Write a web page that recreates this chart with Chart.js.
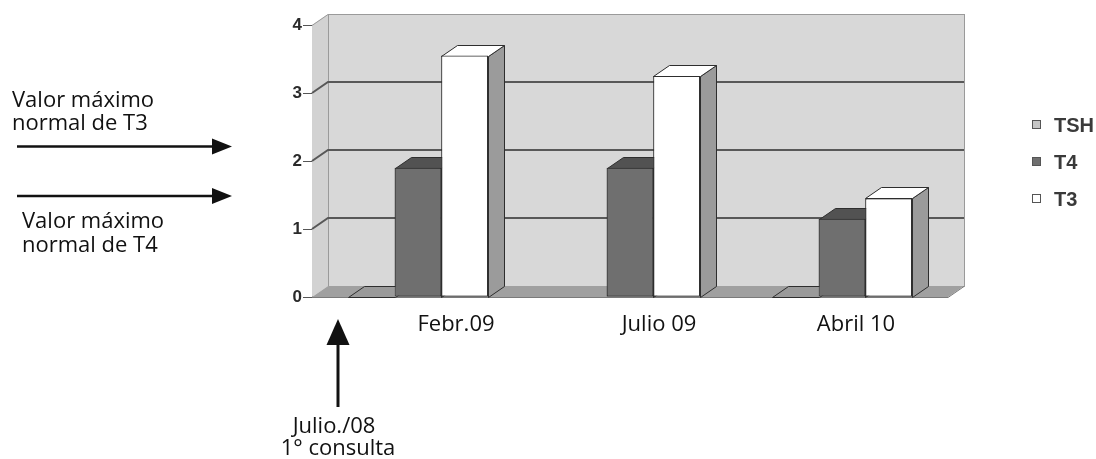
<!DOCTYPE html>
<html>
<head>
<meta charset="utf-8">
<script src="https://cdn.jsdelivr.net/npm/chart.js@4.4.1/dist/chart.umd.min.js"></script>
<style>
  html, body { margin: 0; padding: 0; background: #ffffff; }
  #wrap { width: 1096px; height: 459px; position: relative; }
</style>
</head>
<body>
<div id="wrap"><canvas id="c" width="1096" height="459"></canvas></div>
<script>
// Hormone levels per consultation
const categories = ['Febr.09', 'Julio 09', 'Abril 10'];
const seriesNames = ['TSH', 'T4', 'T3'];
const tshValues = [0, null, 0];
const t4Values = [1.9, 1.9, 1.15];
const t3Values = [3.55, 3.25, 1.45];
const yTickValues = [0, 1, 2, 3, 4];

// Look of the pseudo-3D columns
const DEPTH = { x: 16, y: -11 };
const faceStyles = [
  { front: '#a9a9a9', top: '#9a9a9a', side: '#8a8a8a', key: '#c6c6c6' },
  { front: '#6f6f6f', top: '#525252', side: '#5c5c5c', key: '#6f6f6f' },
  { front: '#ffffff', top: '#ffffff', side: '#9b9b9b', key: '#ffffff' }
];
const labelShift = [38, 29, 14];
const EDGE = '#2e2e2e';
const NOTE_FONT = '22px "Open Sans"';

// Walls, floor and gridlines behind the columns
const stagePlugin = {
  id: 'stage',
  beforeDatasetsDraw(chart) {
    const { ctx, chartArea: a, scales: { y } } = chart;
    const dx = DEPTH.x, dy = DEPTH.y;
    const yb = y.getPixelForValue(yTickValues[0]);
    const yt = y.getPixelForValue(yTickValues[yTickValues.length - 1]);
    ctx.save();
    // back wall
    ctx.fillStyle = '#d8d8d8';
    ctx.fillRect(a.left + dx, yt + dy, a.right - a.left, yb - yt);
    // left side wall
    ctx.beginPath();
    ctx.moveTo(a.left, yb); ctx.lineTo(a.left, yt);
    ctx.lineTo(a.left + dx, yt + dy); ctx.lineTo(a.left + dx, yb + dy);
    ctx.closePath();
    ctx.fillStyle = '#d2d2d2';
    ctx.fill();
    ctx.strokeStyle = '#9a9a9a';
    ctx.lineWidth = 1;
    ctx.strokeRect(a.left + dx + 0.5, yt + dy + 0.5, a.right - a.left, yb - yt);
    ctx.beginPath();
    ctx.moveTo(a.left, yt + 0.5); ctx.lineTo(a.left + dx, yt + dy + 0.5);
    ctx.stroke();
    // gridlines across side wall and back wall
    yTickValues.forEach(v => {
      if (v === yTickValues[0] || v === yTickValues[yTickValues.length - 1]) return;
      const py = y.getPixelForValue(v);
      ctx.beginPath();
      ctx.moveTo(a.left, py);
      ctx.lineTo(a.left + dx, py + dy);
      ctx.lineTo(a.right + dx, py + dy);
      ctx.strokeStyle = '#585858';
      ctx.lineWidth = 2;
      ctx.stroke();
    });
    // floor
    ctx.beginPath();
    ctx.moveTo(a.left, yb); ctx.lineTo(a.right, yb);
    ctx.lineTo(a.right + dx, yb + dy); ctx.lineTo(a.left + dx, yb + dy);
    ctx.closePath();
    ctx.fillStyle = '#a0a0a0';
    ctx.fill();
    ctx.strokeStyle = '#7a7a7a';
    ctx.lineWidth = 1;
    ctx.beginPath();
    ctx.moveTo(a.left, yb + 0.5); ctx.lineTo(a.right, yb + 0.5);
    ctx.lineTo(a.right + dx, yb + dy + 0.5);
    ctx.stroke();
    ctx.restore();
  },
  // columns painted back-to-front, group by group, so each front face hides its neighbour's side
  afterDatasetsDraw(chart) {
    const { ctx } = chart;
    const dx = DEPTH.x, dy = DEPTH.y;
    ctx.save();
    ctx.lineWidth = 1;
    ctx.strokeStyle = EDGE;
    ctx.lineJoin = 'round';
    categories.forEach((_, i) => {
      chart.data.datasets.forEach((ds, d) => {
        if (ds.data[i] === null || ds.data[i] === undefined) return;
        const el = chart.getDatasetMeta(d).data[i];
        const p = el.getProps(['x', 'y', 'base', 'width'], true);
        const l = Math.round(p.x - p.width / 2) + 0.5;
        const r = Math.round(p.x + p.width / 2) + 0.5;
        const t = Math.round(p.y) + 0.5;
        const b = Math.round(p.base) + 0.5;
        const st = faceStyles[d];
        // side face
        if (b - t > 0.5) {
          ctx.beginPath();
          ctx.moveTo(r, b); ctx.lineTo(r, t);
          ctx.lineTo(r + dx, t + dy); ctx.lineTo(r + dx, b + dy);
          ctx.closePath();
          ctx.fillStyle = st.side;
          ctx.fill(); ctx.stroke();
        }
        // top face
        ctx.beginPath();
        ctx.moveTo(l, t); ctx.lineTo(r, t);
        ctx.lineTo(r + dx, t + dy); ctx.lineTo(l + dx, t + dy);
        ctx.closePath();
        ctx.fillStyle = st.top;
        ctx.fill(); ctx.stroke();
        // front face by the bar element itself
        if (b - t > 0.5) el.draw(ctx, chart.chartArea);
      });
    });
    ctx.restore();
  }
};

// Category names, legend and the hand-drawn notes
const notesPlugin = {
  id: 'notes',
  afterDraw(chart) {
    const { ctx, scales: { x } } = chart;
    ctx.save();
    // category names
    ctx.font = NOTE_FONT;
    ctx.fillStyle = '#111111';
    ctx.textAlign = 'center';
    ctx.textBaseline = 'alphabetic';
    categories.forEach((c, i) => {
      ctx.fillText(c, x.getPixelForValue(i) + labelShift[i], 331);
    });

    // legend
    const rows = [125, 162, 199];
    ctx.textAlign = 'left';
    ctx.textBaseline = 'middle';
    ctx.font = 'bold 20px "Liberation Sans", Arial';
    chart.data.datasets.forEach((ds, d) => {
      const cy = rows[d];
      ctx.fillStyle = faceStyles[d].key;
      ctx.fillRect(1032.5, cy - 4.5, 8, 8);
      ctx.strokeStyle = '#555555';
      ctx.lineWidth = 1;
      ctx.strokeRect(1032.5, cy - 4.5, 8, 8);
      ctx.fillStyle = '#3a3a3a';
      ctx.fillText(ds.label, 1054, cy + 1);
    });

    // notes with arrows
    ctx.fillStyle = '#111111';
    ctx.strokeStyle = '#111111';
    ctx.font = NOTE_FONT;
    ctx.textBaseline = 'alphabetic';
    ctx.textAlign = 'left';
    ctx.fillText('Valor máximo', 12, 107);
    ctx.fillText('normal de T3', 12, 130);
    ctx.fillText('Valor máximo', 22, 228);
    ctx.fillText('normal de T4', 22, 252);

    const hArrow = (yy) => {
      ctx.lineWidth = 2.5;
      ctx.beginPath();
      ctx.moveTo(17, yy); ctx.lineTo(214, yy);
      ctx.stroke();
      ctx.beginPath();
      ctx.moveTo(212, yy - 8); ctx.lineTo(232, yy); ctx.lineTo(212, yy + 8);
      ctx.closePath();
      ctx.fill();
    };
    hArrow(146.5);
    hArrow(196);

    ctx.lineWidth = 3;
    ctx.beginPath();
    ctx.moveTo(338, 407); ctx.lineTo(338, 343);
    ctx.stroke();
    ctx.beginPath();
    ctx.moveTo(326.5, 345); ctx.lineTo(338, 319); ctx.lineTo(349.5, 345);
    ctx.closePath();
    ctx.fill();

    ctx.textAlign = 'center';
    ctx.fillText('Julio./08', 334, 433);
    ctx.fillText('1° consulta', 338, 455);
    ctx.restore();
  }
};

new Chart(document.getElementById('c'), {
  type: 'bar',
  data: {
    labels: categories,
    datasets: [
      { label: seriesNames[0], data: tshValues, backgroundColor: faceStyles[0].front },
      { label: seriesNames[1], data: t4Values, backgroundColor: faceStyles[1].front },
      { label: seriesNames[2], data: t3Values, backgroundColor: faceStyles[2].front }
    ]
  },
  options: {
    responsive: false,
    animation: false,
    devicePixelRatio: 1,
    layout: { padding: { top: 25, right: 148, bottom: 162, left: 0 } },
    datasets: {
      bar: {
        categoryPercentage: 0.66,
        barPercentage: 1,
        borderWidth: 1,
        borderColor: EDGE,
        borderSkipped: false
      }
    },
    plugins: {
      legend: { display: false },
      tooltip: { enabled: false }
    },
    scales: {
      x: { display: false, offset: true },
      y: {
        min: yTickValues[0],
        max: yTickValues[yTickValues.length - 1],
        afterFit(scale) { scale.width = 312; },
        afterBuildTicks(scale) { scale.ticks = yTickValues.map(v => ({ value: v })); },
        ticks: {
          color: '#2a2a2a',
          font: { family: '"Liberation Sans", Arial', size: 17, weight: 'bold' },
          padding: 1
        },
        grid: {
          drawOnChartArea: false,
          drawTicks: true,
          tickLength: 9,
          color: '#555555'
        },
        border: { display: true, color: '#555555', width: 1 }
      }
    }
  },
  plugins: [stagePlugin, notesPlugin]
});
</script>
</body>
</html>
